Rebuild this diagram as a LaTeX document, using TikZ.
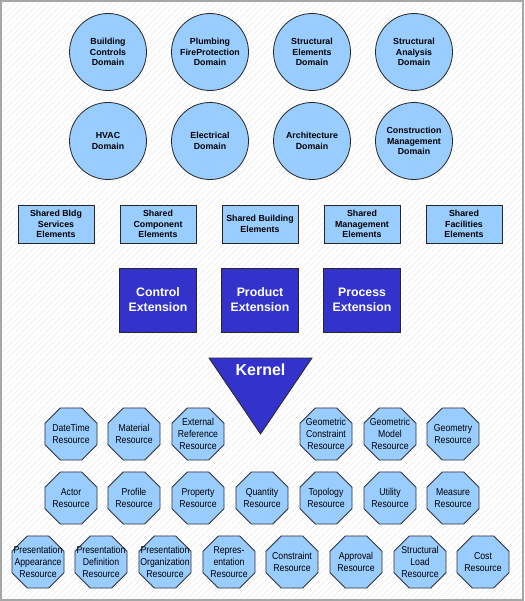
\documentclass[tikz,border=0pt]{standalone}
\usepackage{fontspec}
\setmainfont{Liberation Sans}
\newfontfamily\narrowfont[FakeStretch=0.87]{Liberation Sans}
\usepackage{tikz}
\usetikzlibrary{shapes, patterns.meta}
\usetikzlibrary{positioning}
\definecolor{lightblue}{HTML}{99CCFF}
\definecolor{darkblue}{HTML}{3333CC}

\begin{document}
\begin{tikzpicture}[x=1pt,y=-1pt,
  domaincircle/.style={circle, draw=black!85, line width=0.8pt, fill=lightblue,
    minimum size=77pt, inner sep=0pt, align=center,
    font=\fontsize{8.8}{10.7}\selectfont\bfseries},
  sharedbox/.style={rectangle, draw=black!85, line width=0.9pt, fill=lightblue,
    minimum width=76pt, minimum height=38pt, inner sep=0pt, align=center,
    font=\fontsize{8.8}{10.7}\selectfont\bfseries},
  extbox/.style={rectangle, draw=black!85, line width=1pt, fill=darkblue,
    minimum width=77pt, minimum height=64pt, inner sep=0pt, align=center,
    text=white, font=\fontsize{12.3}{15}\selectfont\bfseries},
  resourcebox/.style={regular polygon, regular polygon sides=8, draw=black!80,
    line width=0.8pt, fill=lightblue, minimum size=56.3pt, inner sep=-20pt,
    align=center, font=\fontsize{10}{12}\narrowfont}
]
\useasboundingbox (0,0) rectangle (524,601);
\fill[white] (0,0) rectangle (524,601);
\fill[pattern={Lines[angle=45,distance=4pt,line width=0.6pt]},
  pattern color=gray!22] (0,0) rectangle (524,601);
\draw[gray!70, line width=2pt] (1,1) rectangle (523,600);

% domains
\node[domaincircle] (bcd) at (108,52) {Building\\Controls\\Domain};
\node[domaincircle] (pfd) at (210,52) {Plumbing\\FireProtection\\Domain};
\node[domaincircle] (sed) at (312,52) {Structural\\Elements\\Domain};
\node[domaincircle] (sad) at (414,52) {Structural\\Analysis\\Domain};
\node[domaincircle] (hvd) at (108,141) {HVAC\\Domain};
\node[domaincircle] (eld) at (210,141) {Electrical\\Domain};
\node[domaincircle] (ard) at (312,141) {Architecture\\Domain};
\node[domaincircle] (cmd) at (414,141) {Construction\\Management\\Domain};

% shared elements
\node[sharedbox] (sbs) at (56,224) {Shared Bldg\\Services\\Elements};
\node[sharedbox] (sco) at (158,224) {Shared\\Component\\Elements};
\node[sharedbox] (sbe) at (260,224) {Shared Building\\Elements};
\node[sharedbox] (sme) at (362,224) {Shared\\Management\\Elements};
\node[sharedbox] (sfe) at (464,224) {Shared\\Facilities\\Elements};

% extensions
\node[extbox] (cext) at (158,300) {Control\\Extension};
\node[extbox] (pext) at (260,300) {Product\\Extension};
\node[extbox] (rext) at (362,300) {Process\\Extension};

% kernel
\path
  coordinate (kl) at (209,358)
  coordinate (kr) at (312,358)
  coordinate (kb) at (260.5,434)
  ;
\filldraw[fill=darkblue, draw=black!85, line width=0.8pt]
  (kl) -- (kr) -- (kb) -- cycle;
\node[text=white, font=\fontsize{16}{18}\selectfont\bfseries] (kernel) at (260.5,370) {Kernel};

% resources
\node[resourcebox] (dtr) at (71,434) {DateTime\\Resource};
\node[resourcebox] (mar) at (134,434) {Material\\Resource};
\node[resourcebox] (err) at (198,434) {External\\Reference\\Resource};
\node[resourcebox] (gcr) at (326,434) {Geometric\\Constraint\\Resource};
\node[resourcebox] (gmr) at (390,434) {Geometric\\Model\\Resource};
\node[resourcebox] (ger) at (453,434) {Geometry\\Resource};

\node[resourcebox] (acr) at (71,498) {Actor\\Resource};
\node[resourcebox] (prr) at (134,498) {Profile\\Resource};
\node[resourcebox] (ppr) at (198,498) {Property\\Resource};
\node[resourcebox] (qur) at (262,498) {Quantity\\Resource};
\node[resourcebox] (tor) at (326,498) {Topology\\Resource};
\node[resourcebox] (utr) at (390,498) {Utility\\Resource};
\node[resourcebox] (mer) at (453,498) {Measure\\Resource};

\node[resourcebox] (par) at (38,562) {Presentation\\Appearance\\Resource};
\node[resourcebox] (pdr) at (101,562) {Presentation\\Definition\\Resource};
\node[resourcebox] (por) at (165,562) {Presentation\\Organization\\Resource};
\node[resourcebox] (rer) at (229,562) {Repres-\\entation\\Resource};
\node[resourcebox] (cor) at (292,562) {Constraint\\Resource};
\node[resourcebox] (apr) at (356,562) {Approval\\Resource};
\node[resourcebox] (slr) at (420,562) {Structural\\Load\\Resource};
\node[resourcebox] (csr) at (483,562) {Cost\\Resource};
\end{tikzpicture}
\end{document}
